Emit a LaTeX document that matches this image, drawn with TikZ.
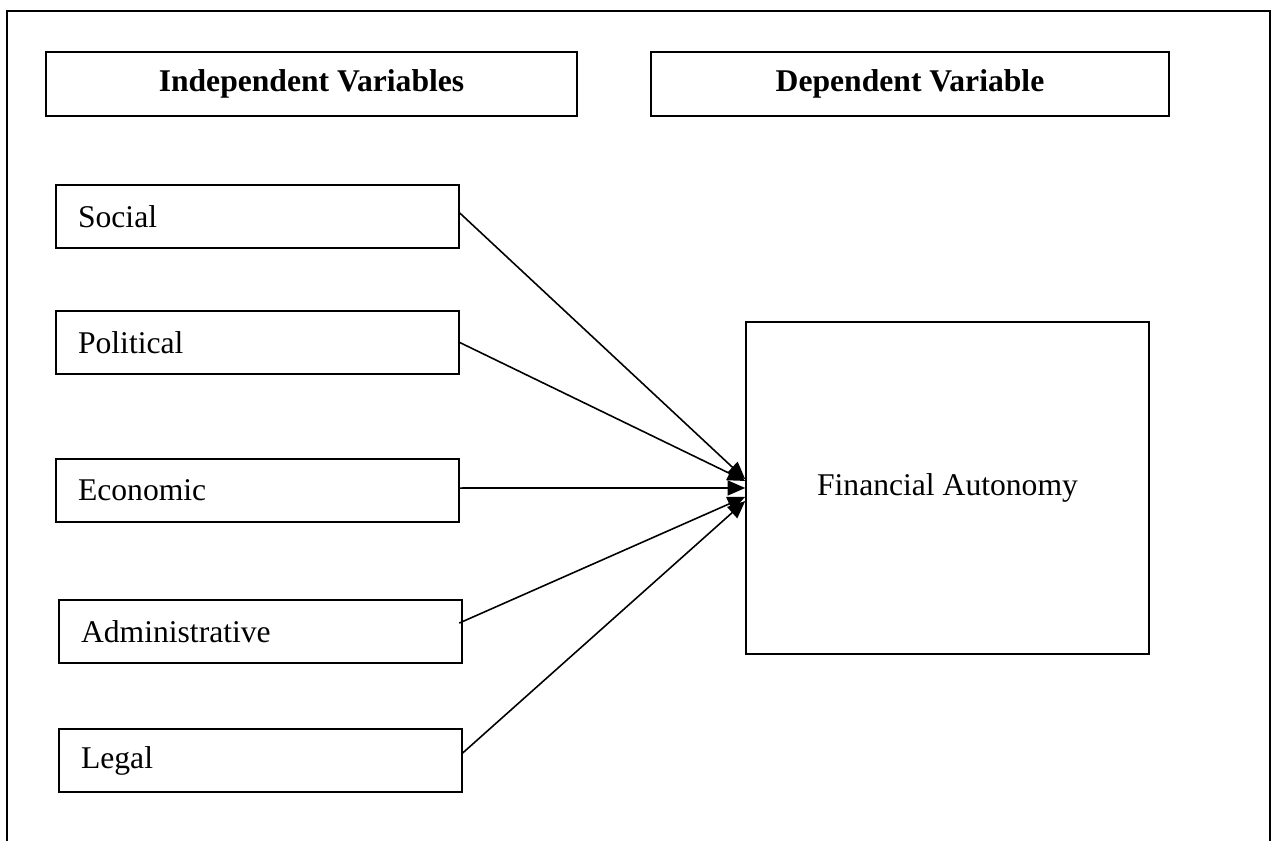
\documentclass[tikz,border=0pt]{standalone}
\usepackage{fontspec}
\setmainfont{Liberation Serif}
\usetikzlibrary{arrows.meta}

\begin{document}
\begin{tikzpicture}[x=0.02cm, y=-0.02cm,
    headbox/.style={rectangle, draw, line width=0.9pt, minimum height=1.28cm, font=\fontsize{18}{22}\selectfont\bfseries},
    varbox/.style={rectangle, draw, line width=0.9pt, minimum height=1.26cm, text width=7.18cm, inner xsep=0.44cm, align=left, font=\fontsize{18}{22}\selectfont},
    link/.style={-{Triangle[length=10pt, width=8.5pt]}, line width=0.9pt}]
    \useasboundingbox (0,0) rectangle (1272,841);

    % Outer frame (open at the bottom)
    \draw[line width=1pt] (7,841) -- (7,11) -- (1270,11) -- (1270,841);

    % Headings
    \node[headbox, minimum width=10.62cm] (INDEP) at (311.5,84) {Independent Variables};
    \node[headbox, minimum width=10.36cm] (DEP) at (910,84) {Dependent Variable};

    % Independent variables
    \node[varbox] (SOCIAL) at (257.5,216.5) {Social};
    \node[varbox] (POLITICAL) at (257.5,342.5) {Political};
    \node[varbox] (ECONOMIC) at (257.5,490.5) {Economic};
    \node[varbox] (ADMIN) at (260.5,631.5) {Administrative};
    \node[varbox] (LEGAL) at (260.5,760.5) {Legal};

    % Dependent variable
    \node[rectangle, draw, line width=0.9pt, minimum width=8.06cm, minimum height=6.64cm, font=\fontsize{18}{22}\selectfont] (FA) at (947.5,488) {Financial Autonomy};

    % Links
    \draw[link] ([yshift=2pt]SOCIAL.east) -- ([yshift=5pt]FA.west);
    \draw[link] (POLITICAL.east) -- ([yshift=4pt]FA.west);
    \draw[link] ([yshift=1.4pt]ECONOMIC.east) -- (FA.west);
    \draw[link] ([xshift=-2pt, yshift=4.8pt]ADMIN.east) -- ([yshift=-5pt]FA.west);
    \draw[link] ([yshift=4.3pt]LEGAL.east) -- ([yshift=-7.4pt]FA.west);
\end{tikzpicture}
\end{document}
